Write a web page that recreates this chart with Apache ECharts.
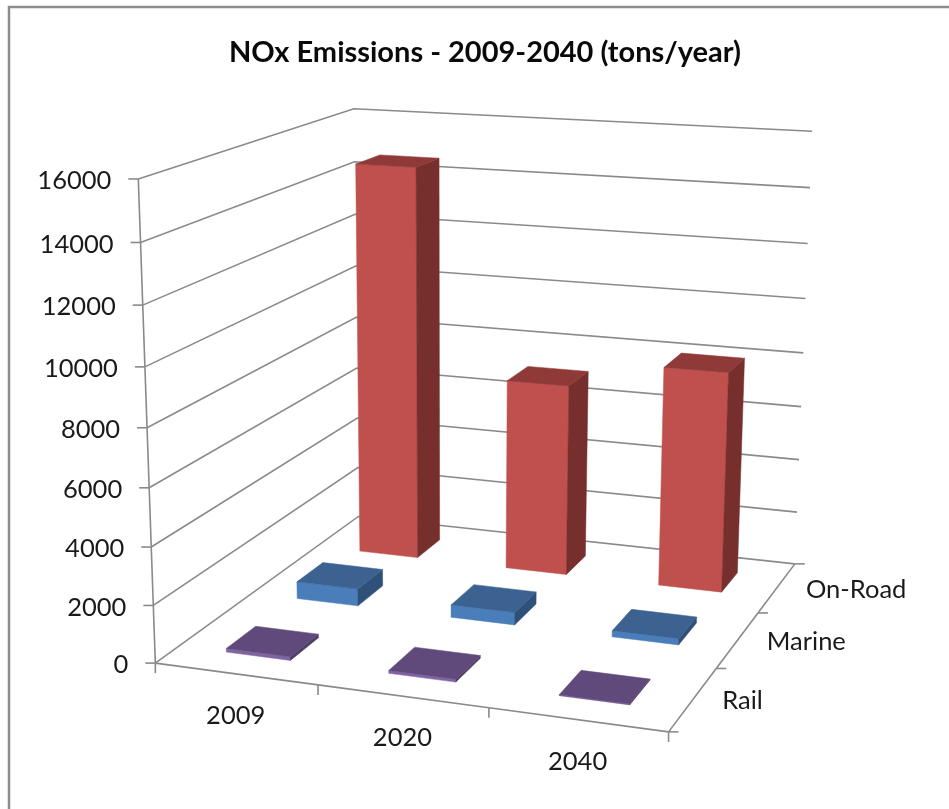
<!DOCTYPE html>
<html>
<head>
<meta charset="utf-8">
<title>NOx Emissions</title>
<style>html,body{margin:0;padding:0;background:#fff}#chart{width:949px;height:809px}</style>
<script src="https://cdn.jsdelivr.net/npm/echarts@6/dist/echarts.min.js"></script>
</head>
<body>
<div id="chart"></div>
<script>
// Chart content
const chartTitle = 'NOx Emissions - 2009-2040 (tons/year)';
const years = ['2009', '2020', '2040'];
const sources = ['Rail', 'Marine', 'On-Road'];
const railTons = [130, 100, 30];
const marineTons = [620, 450, 220];
const onRoadTons = [14600, 7080, 8050];
const valueTicks = [0, 2000, 4000, 6000, 8000, 10000, 12000, 14000, 16000];

// Face shades for each source: front, side, top
const shades = {
  'Rail': ['#8064A2', '#4F3D66', '#604A7B'],
  'Marine': ['#4A7EBB', '#2F5078', '#3B6290'],
  'On-Road': ['#C0504D', '#772F2D', '#8F3A38']
};
const lineColor = '#8A8A8A';
const textColor = '#1A1A1A';
const labelFont = '25.5px Lato, "Open Sans", sans-serif';
const barShare = 0.4;  // bar width inside its category band (gap width 150%)
const valueMax = 16000;

// Box corners and axis marks as [across, depth, height] -> [px, py]; the camera is fitted to them
const cameraAnchors = [
  [0, 0, 0, 156, 663], [1 / 3, 0, 0, 318, 685], [2 / 3, 0, 0, 489, 708], [1, 0, 0, 668, 732],
  [1, 1 / 3, 0, 717, 669], [1, 2 / 3, 0, 757, 613], [1, 1, 0, 795, 563], [0, 1, 0, 358, 517],
  [0, 0, 0.5, 147, 427], [0, 0, 1, 138, 179], [0, 1, 1, 354, 108.7], [1, 1, 1, 812, 131.7], [1, 1, 0.5, 804, 352.5]
];

function solve(A, b) {
  const n = b.length;
  for (let c = 0; c < n; c++) {
    let p = c;
    for (let r = c + 1; r < n; r++) if (Math.abs(A[r][c]) > Math.abs(A[p][c])) p = r;
    [A[c], A[p]] = [A[p], A[c]];
    [b[c], b[p]] = [b[p], b[c]];
    for (let r = c + 1; r < n; r++) {
      const f = A[r][c] / A[c][c];
      for (let k = c; k < n; k++) A[r][k] -= f * A[c][k];
      b[r] -= f * b[c];
    }
  }
  const x = new Array(n).fill(0);
  for (let r = n - 1; r >= 0; r--) {
    let s = b[r];
    for (let k = r + 1; k < n; k++) s -= A[r][k] * x[k];
    x[r] = s / A[r][r];
  }
  return x;
}

// Least-squares fit of a 3x4 projective camera
function fitCamera(anchors) {
  const rows = [], rhs = [];
  anchors.forEach(([u, v, h, px, py]) => {
    const x = px / 1000, y = py / 1000;
    rows.push([u, v, h, 1, 0, 0, 0, 0, -x * u, -x * v, -x * h]); rhs.push(x);
    rows.push([0, 0, 0, 0, u, v, h, 1, -y * u, -y * v, -y * h]); rhs.push(y);
  });
  const N = rows[0].map((_, i) => rows[0].map((_, j) => rows.reduce((s, r) => s + r[i] * r[j], 0)));
  const t = rows[0].map((_, i) => rows.reduce((s, r, k) => s + r[i] * rhs[k], 0));
  return solve(N, t);
}
const cam = fitCamera(cameraAnchors);
function project(u, v, h) {
  const w = cam[8] * u + cam[9] * v + cam[10] * h + 1;
  return [
    1000 * (cam[0] * u + cam[1] * v + cam[2] * h + cam[3]) / w,
    1000 * (cam[4] * u + cam[5] * v + cam[6] * h + cam[7]) / w
  ];
}

function line(points, width) {
  return {
    type: 'polyline',
    shape: { points },
    style: { stroke: lineColor, lineWidth: width || 1.6, fill: null }
  };
}
function label(text, x, y, align) {
  return {
    type: 'text',
    style: { x, y, text, font: labelFont, fill: textColor, align, verticalAlign: 'middle' }
  };
}

// Height of a value as a share of the value axis, through the cartesian scale
function heightShare(api, params, category, value) {
  const pt = api.coord([category, value]);
  return (params.coordSys.y + params.coordSys.height - pt[1]) / params.coordSys.height;
}

// Wall gridlines, with the tick and label on the front vertical edge
function renderValueTick(params, api) {
  const h = heightShare(api, params, 0, api.value(1));
  const front = project(0, 0, h), corner = project(0, 1, h), far = project(1, 1, h);
  return {
    type: 'group',
    children: [
      line([front, corner, far]),
      line([[front[0] - 10, front[1]], front]),
      label(String(api.value(1)), front[0] - 27, front[1] + 2, 'right')
    ]
  };
}

// Front floor edge: ticks between the years, and the year names
function renderYearAxis(params, api) {
  const i = params.dataIndex;
  const band = api.size([1, 0])[0] / params.coordSys.width;
  const centre = (api.coord([i, 0])[0] - params.coordSys.x) / params.coordSys.width;
  const a = project(i * band, 0, 0), b = project((i + 1) * band, 0, 0), mid = project(centre, 0, 0);
  const children = [
    line([a, b]),
    line([b, [b[0], b[1] + 10]]),
    label(years[i], mid[0], mid[1] + 42, 'center')
  ];
  if (i === 0) children.push(line([a, [a[0], a[1] + 10]]), line([a, project(0, 0, 1)]));
  return { type: 'group', children };
}

// Right floor edge: ticks between the sources, and the source names
function renderSourceAxis(params, api) {
  const i = params.dataIndex, n = sources.length;
  const a = project(1, i / n, 0), b = project(1, (i + 1) / n, 0), mid = project(1, (i + 0.5) / n, 0);
  const children = [
    line([a, b]),
    line([b, [b[0] + 10, b[1]]]),
    label(sources[i], mid[0] + 29, mid[1] + 2, 'left')
  ];
  if (i === 0) children.push(line([a, [a[0] + 10, a[1]]]));
  return { type: 'group', children };
}

function renderBar(params, api) {
  const cs = params.coordSys;
  const cat = api.value(0);
  const row = sources.indexOf(params.seriesName);
  const bandU = api.size([1, 0])[0] / cs.width, bandV = 1 / sources.length;
  const cu = (api.coord([cat, 0])[0] - cs.x) / cs.width, cv = (row + 0.5) * bandV;
  const u0 = cu - bandU * barShare / 2, u1 = cu + bandU * barShare / 2;
  const v0 = cv - bandV * barShare / 2, v1 = cv + bandV * barShare / 2;
  const h = heightShare(api, params, cat, api.value(1));
  const [front, side, top] = shades[params.seriesName];
  const face = (pts, fill) => ({
    type: 'polygon',
    shape: { points: pts.map(p => project(p[0], p[1], p[2])) },
    style: { fill, stroke: fill, lineWidth: 0.5 }
  });
  return {
    type: 'group',
    children: [
      face([[u0, v0, 0], [u1, v0, 0], [u1, v0, h], [u0, v0, h]], front),
      face([[u1, v0, 0], [u1, v1, 0], [u1, v1, h], [u1, v0, h]], side),
      face([[u0, v0, h], [u1, v0, h], [u1, v1, h], [u0, v1, h]], top)
    ]
  };
}

function barSeries(name, values) {
  return {
    type: 'custom',
    name,
    coordinateSystem: 'cartesian2d',
    renderItem: renderBar,
    data: values.map((v, i) => [i, v])
  };
}

const chart = echarts.init(document.getElementById('chart'), null, { renderer: 'canvas' });
chart.setOption({
  animation: false,
  backgroundColor: '#ffffff',
  title: {
    text: chartTitle,
    left: 480,
    top: 33,
    textAlign: 'center',
    textStyle: { fontFamily: 'Lato, "Open Sans", sans-serif', fontWeight: 'bold', fontSize: 29, color: '#0A0A0A' }
  },
  graphic: [{
    type: 'polyline',
    shape: { points: [[9, 809], [9, 7], [949, 7]] },
    style: { stroke: '#8C8C8C', lineWidth: 2.5, fill: null }
  }],
  grid: { left: 0, right: 0, top: 0, bottom: 0 },
  xAxis: { type: 'category', data: years, show: false },
  yAxis: { type: 'value', min: 0, max: valueMax, show: false },
  series: [
    { type: 'custom', name: 'Value axis', renderItem: renderValueTick, data: valueTicks.map(v => [0, v]) },
    { type: 'custom', name: 'Year axis', renderItem: renderYearAxis, data: years.map((_, i) => [i, 0]) },
    { type: 'custom', name: 'Source axis', renderItem: renderSourceAxis, data: sources.map((_, i) => [i, 0]) },
    barSeries('On-Road', onRoadTons),
    barSeries('Marine', marineTons),
    barSeries('Rail', railTons)
  ]
});
</script>
</body>
</html>
